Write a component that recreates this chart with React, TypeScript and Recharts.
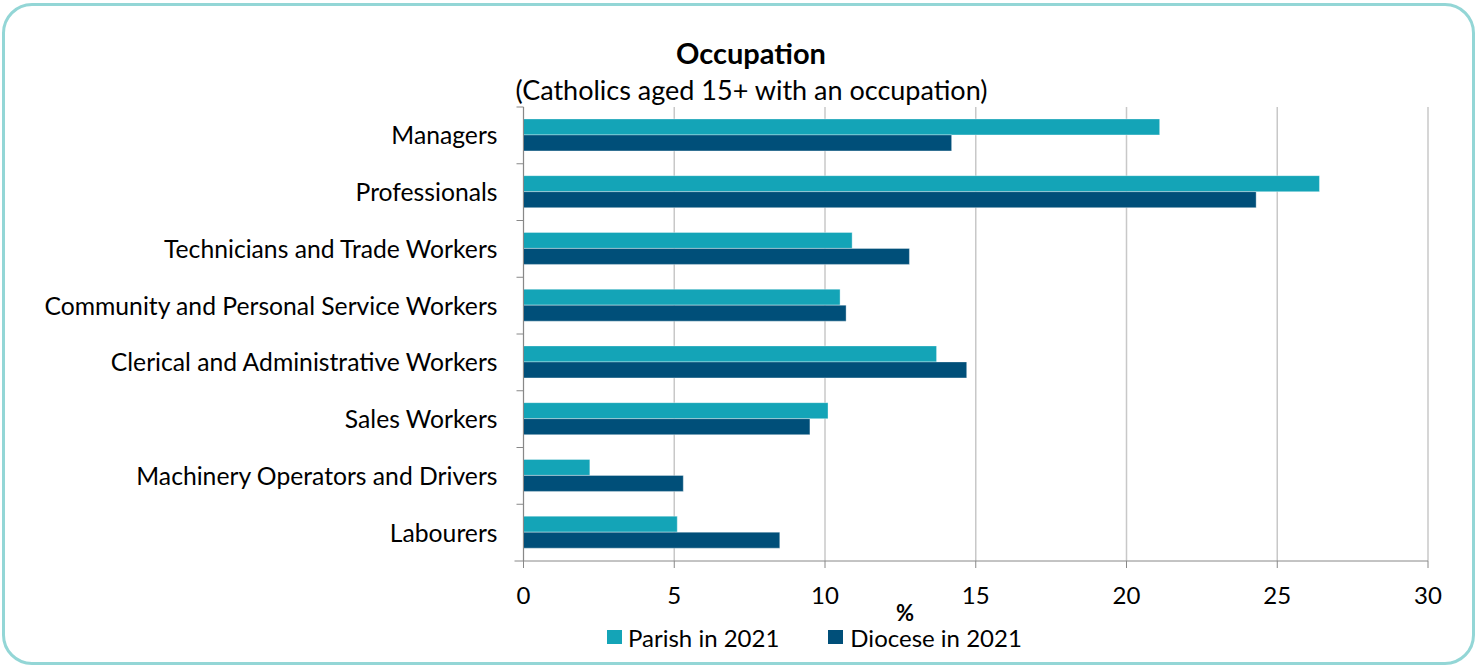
import React from "react";
import { BarChart, Bar, XAxis, YAxis, CartesianGrid } from "recharts";

const categories = [
  "Managers",
  "Professionals",
  "Technicians and Trade Workers",
  "Community and Personal Service Workers",
  "Clerical and Administrative Workers",
  "Sales Workers",
  "Machinery Operators and Drivers",
  "Labourers",
];
const parish2021 = [21.1, 26.4, 10.9, 10.5, 13.7, 10.1, 2.2, 5.1];
const diocese2021 = [14.2, 24.3, 12.8, 10.7, 14.7, 9.5, 5.3, 8.5];
const xTicks = [0, 5, 10, 15, 20, 25, 30];

const PARISH = "#14A4B7";
const DIOCESE = "#004F79";
const FONT = "Lato, 'Open Sans', sans-serif";

const W = 1479;
const H = 669;
const M_TOP = 107;
const X_AXIS_H = 30;
const M_BOTTOM = 108 - X_AXIS_H;
const PLOT_H = H - M_TOP - M_BOTTOM - X_AXIS_H;
const BAND = PLOT_H / categories.length;

const data = categories.map((c, i) => ({
  name: c,
  parish: parish2021[i],
  diocese: diocese2021[i],
}));

const YTick = (props: any) => {
  const { x, y, payload, index } = props;
  const axisX = x + 26;
  return (
    <g>
      <line x1={axisX - 7} x2={axisX} y1={y - BAND / 2} y2={y - BAND / 2} stroke="#888" />
      {index === categories.length - 1 && (
        <line x1={axisX - 9} x2={axisX} y1={y + BAND / 2} y2={y + BAND / 2} stroke="#888" />
      )}
      <text x={x} y={y} dy="0.36em" textAnchor="end" fontSize={24.7} fill="#000" fontFamily={FONT}>
        {payload.value}
      </text>
    </g>
  );
};

const LegendContent = () => (
  <div style={{ display: "flex", alignItems: "center", fontFamily: FONT, fontSize: 24, color: "#000", lineHeight: 1.05 }}>
    <span style={{ display: "inline-block", width: 15, height: 14, background: PARISH, marginRight: 6 }} />
    <span style={{ marginRight: 49 }}>Parish in 2021</span>
    <span style={{ display: "inline-block", width: 15, height: 14, background: DIOCESE, marginRight: 7 }} />
    <span>Diocese in 2021</span>
  </div>
);

export default function App() {
  return (
    <div style={{ position: "absolute", left: 0, top: 0, width: W, height: H, background: "#fff" }}>
      <div
        style={{
          position: "absolute",
          left: 2,
          top: 3,
          width: W - 5 - 7,
          height: H - 6 - 7,
          border: "3.5px solid #93D6D6",
          borderRadius: 30,
        }}
      />
      <div
        style={{
          position: "absolute",
          left: 0,
          width: 1502,
          top: 36,
          textAlign: "center",
          fontFamily: FONT,
          fontWeight: "bold",
          fontSize: 29,
          lineHeight: 1.2,
          color: "#000",
        }}
      >
        Occupation
      </div>
      <div
        style={{
          position: "absolute",
          left: 0,
          width: 1503,
          top: 74,
          textAlign: "center",
          fontFamily: FONT,
          fontSize: 27,
          lineHeight: 1.2,
          color: "#000",
        }}
      >
        (Catholics aged 15+ with an occupation)
      </div>
      <div
        style={{
          position: "absolute",
          left: 0,
          width: 1810,
          top: 602,
          textAlign: "center",
          fontFamily: FONT,
          fontWeight: "bold",
          fontSize: 22,
          lineHeight: 1,
          color: "#000",
        }}
      >
        %
      </div>
      <div style={{ position: "absolute", left: 0, top: 0 }}>
        <BarChart
          width={W}
          height={H}
          data={data}
          layout="vertical"
          margin={{ top: M_TOP, bottom: M_BOTTOM, left: 10, right: 51 }}
          barCategoryGap="21%"
          barGap={0}
        >
          <CartesianGrid horizontal={false} stroke="#c8c8c8" strokeWidth={1.5} />
          <XAxis
            type="number"
            domain={[0, 30]}
            ticks={xTicks}
            interval={0}
            height={X_AXIS_H}
            tickSize={7}
            tickMargin={19}
            axisLine={{ stroke: "#888" }}
            tickLine={{ stroke: "#888" }}
            tick={{ fontSize: 24, fill: "#000", fontFamily: FONT }}
          />
          <YAxis
            type="category"
            dataKey="name"
            width={513.5}
            tickSize={0}
            tickMargin={26}
            axisLine={{ stroke: "#888" }}
            tickLine={false}
            tick={<YTick />}
            interval={0}
          />
          <Bar dataKey="parish" fill={PARISH} stroke="rgba(255,255,255,0.35)" isAnimationActive={false} />
          <Bar dataKey="diocese" fill={DIOCESE} stroke="rgba(255,255,255,0.35)" isAnimationActive={false} />
        </BarChart>
      </div>
      <div style={{ position: "absolute", left: 607, top: 624.5 }}>
        <LegendContent />
      </div>
    </div>
  );
}
